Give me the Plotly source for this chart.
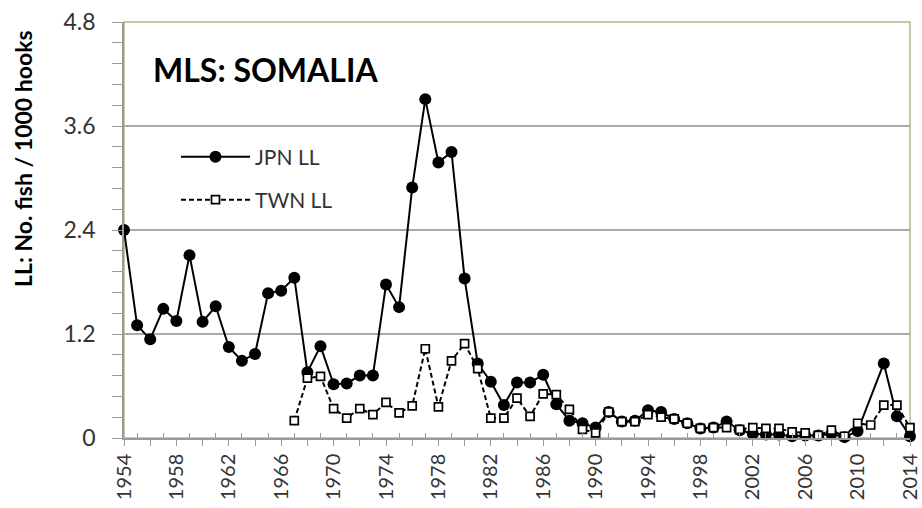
import plotly.graph_objects as go

# Longline CPUE (fish per 1000 hooks), Somalia area, striped marlin
years = list(range(1954, 2015))
jpn_ll = [2.40, 1.30, 1.14, 1.49, 1.35, 2.11, 1.34, 1.52, 1.05, 0.89, 0.97, 1.67, 1.70, 1.85, 0.76,   # 1954-1968
          1.06, 0.62, 0.63, 0.72, 0.72, 1.77, 1.51, 2.89, 3.91, 3.18, 3.30, 1.84, 0.86, 0.65, 0.38,   # 1969-1983
          0.64, 0.64, 0.73, 0.39, 0.20, 0.17, 0.12, 0.30, 0.19, 0.20, 0.32, 0.30, 0.22, 0.17, 0.11,   # 1984-1998
          0.12, 0.19, 0.09, 0.05, 0.04, 0.04, 0.02, 0.03, 0.03, 0.05, 0.01, 0.08, None, 0.86, 0.25, 0.02]  # 1999-2014
twn_ll = [None] * 13 + [
    0.20, 0.69, 0.71, 0.34, 0.23, 0.34, 0.27, 0.41, 0.29, 0.37,   # 1967-1976
    1.03, 0.36, 0.89, 1.09, 0.80, 0.23, 0.23, 0.46, 0.25, 0.51,   # 1977-1986
    0.50, 0.33, 0.10, 0.06, 0.30, 0.19, 0.19, 0.27, 0.24, 0.22,   # 1987-1996
    0.17, 0.11, 0.12, 0.12, 0.10, 0.12, 0.11, 0.11, 0.07, 0.06,   # 1997-2006
    0.03, 0.09, 0.02, 0.17, 0.15, 0.38, 0.38, 0.12]               # 2007-2014

x_major = list(range(1954, 2015, 2))
x_labels = [str(y) if (y - 1954) % 4 == 0 else "" for y in x_major]
x_minor = list(range(1955, 2015, 2))
y_ticks = [0, 1.2, 2.4, 3.6, 4.8]
y_labels = ["0", "1.2", "2.4", "3.6", "4.8"]

FONT = "Lato"
AXIS_GREY = "#9a9a9a"
GRID_GREY = "#a9a9a9"
FRAME_TAN = "#bdb58c"
TEXT = "#333333"

fig = go.Figure()
fig.add_trace(go.Scatter(
    x=years, y=jpn_ll, name="JPN LL", mode="lines+markers", connectgaps=True,
    line=dict(color="black", width=2),
    marker=dict(symbol="circle", size=12, color="black"),
    cliponaxis=False, legend="legend",
))
fig.add_trace(go.Scatter(
    x=years, y=twn_ll, name="TWN LL", mode="lines+markers",
    line=dict(color="black", width=2, dash="5px,3px"),
    marker=dict(symbol="square", size=8, color="white", line=dict(color="black", width=1.7)),
    cliponaxis=False, legend="legend2",
))

# plot-area frame (top/right edges visible in tan)
fig.add_shape(type="rect", xref="paper", yref="paper", x0=0, y0=0, x1=1, y1=1,
              line=dict(color=FRAME_TAN, width=1.5), layer="between")

fig.add_annotation(text="<b>MLS: SOMALIA</b>", xref="paper", yref="paper",
                   x=(151 - 124) / 786, y=(438 - 69) / 416, xanchor="left", yanchor="middle",
                   showarrow=False, font=dict(family=FONT, size=32, color="black"))
fig.add_annotation(text="<b>LL: No. fish / 1000 hooks</b>", xref="paper", yref="paper",
                   x=-(124 - 23) / 786, y=(438 - 158) / 416, xanchor="center", yanchor="middle",
                   textangle=-90, showarrow=False, font=dict(family=FONT, size=23, color="black"))

legend_common = dict(xanchor="left", yanchor="middle", itemwidth=69, bgcolor="rgba(0,0,0,0)",
                     borderwidth=0, font=dict(family=FONT, size=21, color=TEXT), itemclick=False)

fig.update_layout(
    width=922, height=508,
    margin=dict(l=124, r=12, t=22, b=70, pad=0),
    paper_bgcolor="white", plot_bgcolor="white",
    font=dict(family=FONT, color=TEXT),
    showlegend=True,
    legend=dict(x=(176 - 124) / 786, y=(438 - 157) / 416, **legend_common),
    legend2=dict(x=(176 - 124) / 786, y=(438 - 200) / 416, **legend_common),
    xaxis=dict(
        range=[1954, 2014], tickmode="array", tickvals=x_major, ticktext=x_labels,
        tickangle=-90, ticks="outside", ticklen=6, tickwidth=1.3, tickcolor=AXIS_GREY,
        tickfont=dict(family=FONT, size=20, color=TEXT), ticklabelstandoff=0,
        ticklabeloverflow="allow", automargin=False,
        minor=dict(tickmode="array", tickvals=x_minor, ticks="inside", ticklen=5,
                   tickwidth=1.3, tickcolor=AXIS_GREY, showgrid=False),
        showgrid=False, zeroline=False, showline=True, linecolor=AXIS_GREY, linewidth=1.5,
    ),
    yaxis=dict(
        range=[0, 4.8], tickmode="array", tickvals=y_ticks, ticktext=y_labels,
        ticks="outside", ticklen=10, tickwidth=1.3, tickcolor=AXIS_GREY,
        tickfont=dict(family=FONT, size=23, color=TEXT), ticklabelstandoff=12,
        automargin=False,
        minor=dict(dtick=0.24, tick0=0, ticks="outside", ticklen=10, tickwidth=1.3,
                   tickcolor=AXIS_GREY, showgrid=False),
        showgrid=True, gridcolor=GRID_GREY, gridwidth=1.5,
        zeroline=False, showline=True, linecolor=AXIS_GREY, linewidth=1.5,
    ),
)

fig.write_html("out.html")
